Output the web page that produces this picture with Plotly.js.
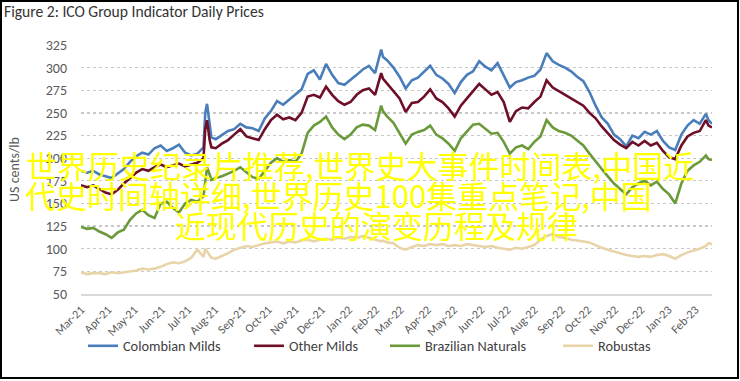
<!DOCTYPE html>
<html>
<head>
<meta charset="utf-8">
<script src="https://cdn.plot.ly/plotly-3.0.1.min.js"></script>
<style>
html,body{margin:0;padding:0;background:#fff;}
#chart{width:740px;height:381px;}
</style>
</head>
<body>
<div id="chart"></div>
<script>
// ---- data (US cents/lb) ----
const dates = [
  '2021-03-01','2021-03-08','2021-03-15','2021-03-22','2021-03-29',
  '2021-04-05','2021-04-12','2021-04-19','2021-04-26',
  '2021-05-03','2021-05-10','2021-05-17','2021-05-24','2021-05-31',
  '2021-06-07','2021-06-14','2021-06-21','2021-06-28',
  '2021-07-05','2021-07-12','2021-07-19','2021-07-21','2021-07-23','2021-07-26','2021-07-28',
  '2021-08-02','2021-08-09','2021-08-16','2021-08-23','2021-08-30',
  '2021-09-06','2021-09-13','2021-09-20','2021-09-27',
  '2021-10-04','2021-10-11','2021-10-18','2021-10-25',
  '2021-11-01','2021-11-08','2021-11-15','2021-11-22','2021-11-29',
  '2021-12-06','2021-12-13','2021-12-20','2021-12-27',
  '2022-01-03','2022-01-10','2022-01-17','2022-01-24','2022-01-31',
  '2022-02-07','2022-02-09','2022-02-14','2022-02-21','2022-02-28',
  '2022-03-07','2022-03-14','2022-03-21','2022-03-28',
  '2022-04-04','2022-04-11','2022-04-18','2022-04-25',
  '2022-05-02','2022-05-09','2022-05-16','2022-05-23','2022-05-30',
  '2022-06-06','2022-06-13','2022-06-20','2022-06-27',
  '2022-07-04','2022-07-11','2022-07-18','2022-07-25',
  '2022-08-01','2022-08-08','2022-08-15','2022-08-22','2022-08-29',
  '2022-09-05','2022-09-12','2022-09-19','2022-09-26',
  '2022-10-03','2022-10-10','2022-10-17','2022-10-24','2022-10-31',
  '2022-11-07','2022-11-14','2022-11-21','2022-11-28',
  '2022-12-05','2022-12-12','2022-12-19','2022-12-26',
  '2023-01-02','2023-01-09','2023-01-16','2023-01-23','2023-01-30',
  '2023-02-06','2023-02-13','2023-02-16','2023-02-20'
];

const colombianMilds = [
  186,184,186,182,180,
  178,183,188,196,
  202,206,204,211,214,
  208,211,215,206,
  203,205,212,250,260,236,223,
  221,226,230,232,238,
  234,233,230,244,
  252,263,259,265,
  270,276,293,297,287,
  304,292,283,281,
  286,292,298,302,294,
  320,312,308,300,290,
  277,286,289,296,
  302,292,288,282,
  272,284,292,296,307,
  301,297,305,292,
  278,284,286,289,
  291,298,316,307,303,
  300,296,290,285,
  273,258,245,238,226,
  221,213,225,222,
  229,226,230,219,
  212,209,226,236,242,
  238,249,242,238
];

const otherMilds = [
  170,168,170,166,162,
  160,165,172,178,
  184,188,186,190,193,
  190,192,194,191,
  193,195,200,232,242,220,212,
  211,216,220,226,232,
  224,222,220,232,
  242,248,243,245,
  242,250,268,270,267,
  279,270,263,259,
  262,270,275,277,270,
  294,288,282,274,266,
  251,261,262,268,
  276,266,262,255,
  246,258,266,274,282,
  276,270,273,262,
  240,252,256,255,
  262,268,286,278,274,
  270,266,262,258,
  250,244,235,228,220,
  215,211,218,214,
  219,214,217,208,
  201,199,214,224,228,
  230,242,236,234
];

const brazilianNaturals = [
  124,122,123,119,116,
  112,118,121,132,
  139,143,137,134,150,
  152,145,140,150,
  154,152,158,176,190,182,176,
  178,180,183,186,190,
  184,179,177,186,
  195,200,196,198,
  196,205,228,236,240,
  246,234,226,221,
  226,234,237,236,231,
  258,252,246,239,228,
  216,226,229,231,
  236,226,222,216,
  208,222,230,237,238,
  232,227,228,218,
  205,212,214,210,
  218,224,242,234,230,
  228,225,220,214,
  205,196,188,180,172,
  166,160,168,172,
  175,170,174,166,
  160,150,172,186,192,
  196,203,199,198
];

const robustas = [
  74,72,73,73,72,
  74,73,74,75,
  76,78,77,78,80,
  83,85,84,86,
  90,99,91,100,97,92,90,
  89,92,95,99,101,
  103,102,104,106,
  107,108,106,108,
  107,109,110,108,110,
  111,110,112,111,
  113,112,114,112,110,
  108,109,107,106,101,
  99,102,104,103,
  105,104,105,103,
  104,103,105,104,103,
  102,103,101,100,
  99,101,100,102,
  104,110,114,116,113,
  112,110,109,108,
  107,104,101,99,97,
  95,93,92,91,
  92,91,93,94,
  92,89,93,96,98,
  100,103,106,105
];

const seriesNames = ['Colombian Milds','Other Milds','Brazilian Naturals','Robustas'];
const yTickVals = [50,75,100,125,150,175,200,225,250,275,300,325];
const titleText = 'Figure 2: ICO Group Indicator Daily Prices';
const yTitleText = 'US cents/lb';
const overlayLines = [
  '世界历史纪录片推荐,世界史大事件时间表,中国近',
  '代史时间轴详细,世界历史100集重点笔记,中国',
  '近现代历史的演变历程及规律'
];

// ---- styling / layout ----
const colors = ['#4a7ebb','#6e0f27','#6a9a3a','#e8d4a8'];
const seriesData = [colombianMilds, otherMilds, brazilianNaturals, robustas];
const legendIds = ['legend','legend2','legend3','legend4'];
const FONT = 'Carlito, Lato, "Liberation Sans", sans-serif';

// plot area in pixels: x 81..712, y 45..294
const PL = 81, PR = 712, PT = 45, PB = 294;
const px2x = p => (p - PL) / (PR - PL);
const px2y = p => (PB - p) / (PB - PT);

const traces = seriesData.map((vals, i) => ({
  type: 'scatter', mode: 'lines',
  x: dates, y: vals,
  name: seriesNames[i],
  legend: legendIds[i],
  line: {color: colors[i], width: 2.6, shape: 'linear'},
  hoverinfo: 'x+y+name'
}));

const legendStarts = [88, 254, 390, 563];
const legendBase = {
  orientation: 'h', yanchor: 'middle', xanchor: 'left',
  y: px2y(346), bgcolor: 'rgba(0,0,0,0)', borderwidth: 0,
  font: {family: FONT, size: 14.3, color: '#404040'},
  itemwidth: 30, tracegroupgap: 0
};
const layout = {
  width: 740, height: 381,
  margin: {l: PL, r: 740 - PR, t: PT, b: 381 - PB, pad: 0},
  paper_bgcolor: '#ffffff', plot_bgcolor: '#ffffff',
  font: {family: FONT, color: '#595959'},
  title: {
    text: titleText, xref: 'container', x: 4/740, xanchor: 'left',
    yref: 'container', y: 1 - 12/381, yanchor: 'middle',
    font: {family: FONT, size: 15.6, color: '#333333'}
  },
  xaxis: {
    type: 'date',
    range: ['2021-03-01', '2023-02-20'],
    tick0: '2021-03-01', dtick: 'M1', tickformat: '%b-%y',
    tickangle: -45, showgrid: false, zeroline: false,
    showline: true, linecolor: '#d9d9d9', linewidth: 2,
    ticks: '', ticklabelstandoff: 2,
    tickfont: {family: FONT, size: 12, color: '#595959'},
    fixedrange: true
  },
  yaxis: {
    range: [50, 325], tickvals: yTickVals,
    showgrid: true, gridcolor: '#c8c8c8', griddash: 'dot', gridwidth: 1.3,
    zeroline: false, showline: false, ticks: '',
    ticklabelstandoff: 13,
    tickfont: {family: FONT, size: 14, color: '#595959'},
    title: {text: yTitleText, standoff: 22, font: {family: FONT, size: 14, color: '#595959'}},
    fixedrange: true
  },
  showlegend: true,
  shapes: [{
    type: 'rect', xref: 'paper', yref: 'paper', layer: 'above',
    x0: px2x(1), x1: px2x(738), y0: px2y(378), y1: px2y(1),
    line: {color: '#000000', width: 2}, fillcolor: 'rgba(0,0,0,0)'
  }],
  annotations: [
    {text: overlayLines[0], x: px2x(25), y: px2y(141)},
    {text: overlayLines[1], x: px2x(24), y: px2y(171)},
    {text: overlayLines[2], x: px2x(174), y: px2y(201)}
  ].map(a => Object.assign(a, {
    xref: 'paper', yref: 'paper', xanchor: 'left', yanchor: 'top',
    showarrow: false, borderpad: 0,
    font: {family: '"Noto Sans CJK SC", sans-serif', size: 31, color: '#ffff00'}
  }))
};
legendIds.forEach((id, i) => {
  layout[id] = Object.assign({}, legendBase, {x: px2x(legendStarts[i] - 5)});
});

Plotly.newPlot('chart', traces, layout, {displayModeBar: false, staticPlot: true});
</script>
</body>
</html>
